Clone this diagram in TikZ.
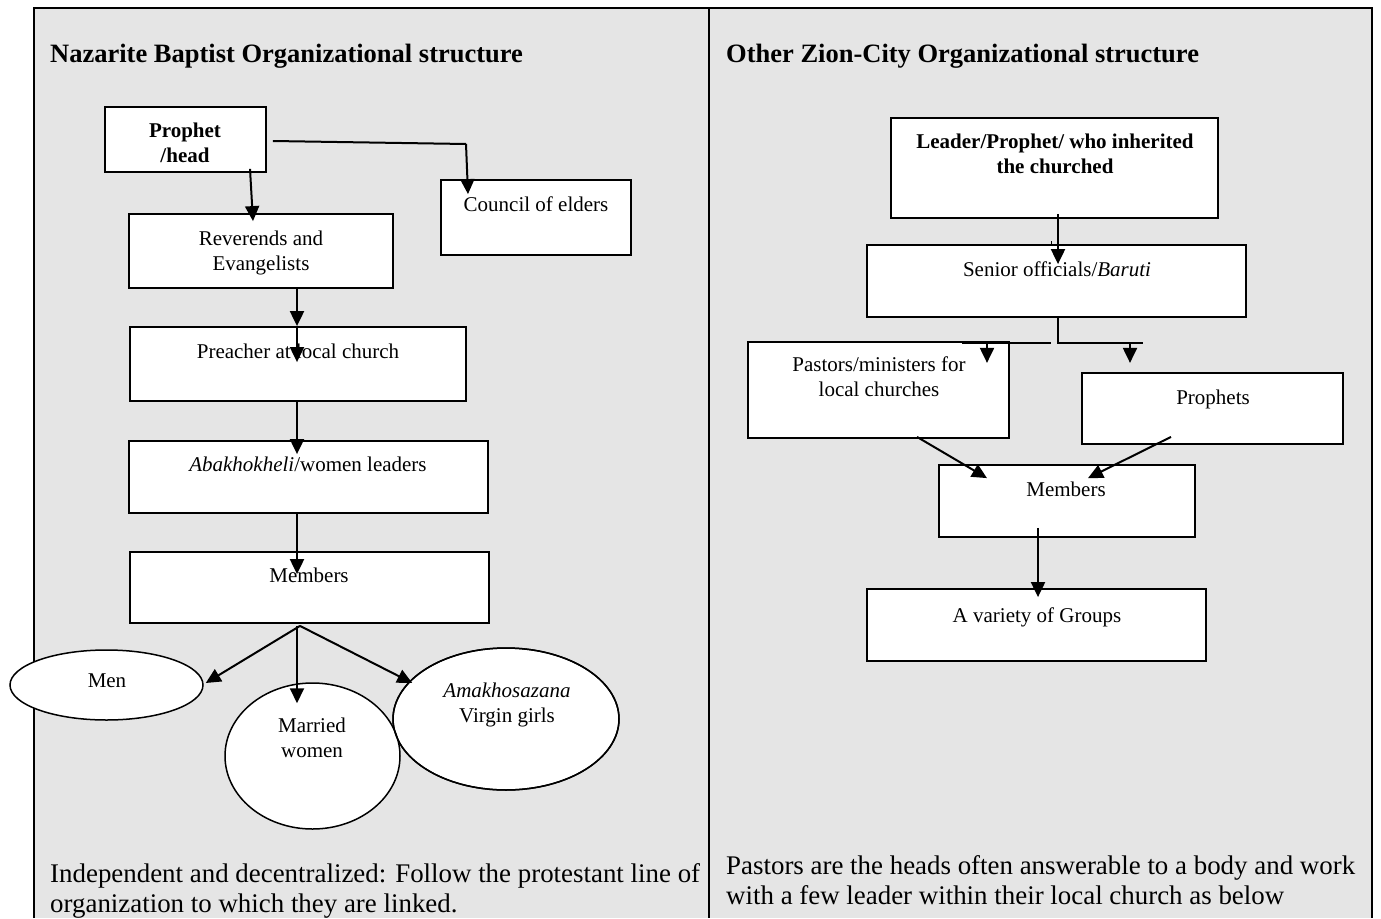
\documentclass[tikz,border=0pt]{standalone}
\usepackage{fontspec}
\setmainfont{Liberation Serif}
\usetikzlibrary{arrows.meta,shapes.geometric,calc}
\definecolor{panelgray}{RGB}{229,229,229}
\begin{document}
\begin{tikzpicture}[x=1pt,y=-1pt,
  box/.style={draw, fill=white, line width=1.8pt, inner sep=0pt},
  oval/.style={ellipse, draw, fill=white, line width=1.5pt, inner sep=0pt},
  txt/.style={anchor=base, align=center, inner sep=0pt, font={\fontsize{21}{25}\selectfont}},
  btxt/.style={anchor=base, align=center, inner sep=0pt, font={\fontsize{21}{25}\selectfont\bfseries}},
  ttl/.style={anchor=base west, inner sep=0pt, font={\fontsize{26.5}{30}\selectfont\bfseries}},
  para/.style={anchor=base west, align=left, inner sep=0pt, font={\fontsize{26.9}{30}\selectfont}},
  arr/.style={-{Triangle[length=15pt,width=14pt]}, line width=2pt},
  ln/.style={line width=2pt},
  frame/.style={line width=2pt}]
\useasboundingbox (0,0) rectangle (1381,918);
% panels
\fill[panelgray] (34,8) rectangle (1372,918);
\draw[frame] (34,918) -- (34,8) -- (1372,8) -- (1372,918);
\draw[frame] (709,8) -- (709,918);

% ---------- left panel ----------
\node[ttl] (ttlL) at (50,62) {Nazarite Baptist Organizational structure};
\node[box, minimum width=161pt, minimum height=65pt] (prophet) at (185.5,139.5) {};
\node[btxt] (tprophet) at (185,162) {Prophet\\/head};
\node[box, minimum width=190pt, minimum height=75pt] (council) at (536,217.5) {};
\node[txt] (tcouncil) at (536,211) {Council of elders};
\node[box, minimum width=264pt, minimum height=74pt] (reverends) at (261,251) {};
\node[txt] (trev) at (261,270) {Reverends and\\Evangelists};
\node[box, minimum width=336pt, minimum height=74pt] (preacher) at (298,364) {};
\node[txt] (tpreacher) at (298,358) {Preacher at local church};
\node[box, minimum width=359pt, minimum height=72pt] (abakh) at (308.5,477) {};
\node[txt] (tabakh) at (308,471) {\textit{Abakhokheli}/women leaders};
\node[box, minimum width=359pt, minimum height=71pt] (members) at (309.5,587.5) {};
\node[txt] (tmembers) at (309,582) {Members};

\node[oval, minimum width=193pt, minimum height=70pt] (men) at (106.5,685) {};
\node[txt] (tmen) at (107,687) {Men};
\node[oval, minimum width=226pt, minimum height=142pt] (amakh) at (506,719) {};
\node[oval, minimum width=175pt, minimum height=146pt] (married) at (312.5,756) {};
\draw[line width=1.5pt] (amakh.center) ellipse [x radius=113, y radius=71];
\node[txt] (tmarried) at (312,757) {Married\\women};
\node[txt] (tamakh) at (507,722) {\textit{Amakhosazana}\\Virgin girls};

\node[para] (paraL) at (50,912) {Independent and decentralized: Follow the protestant line of\\organization to which they are linked.};

% left connectors
\coordinate (pr1) at ($(prophet.east)+(6,1.5)$);
\coordinate (pr2) at (466,144);
\draw[ln] (pr1) -- (pr2);
\draw[arr] (pr2) -- ($(pr2 |- council.north)+(2,15)$);
\draw[arr] ($(prophet.south)+(64.5,-4)$) -- ($(reverends.north)+(-8,8)$);
\draw[arr] ($(reverends.south)+(36,0)$) -- ($(preacher.north)+(-1,0)$);
\draw[arr] ($(preacher.north)+(-1,0)$) -- ($(preacher.north)+(-1,36)$);
\draw[arr] ($(preacher.south)+(-1,0)$) -- ($(abakh.north)+(-11.5,14)$);
\draw[arr] ($(abakh.south)+(-11.5,0)$) -- ($(members.north)+(-12.5,23)$);
\coordinate (split) at ($(members.south)+(-9.5,2)$);
\draw[arr] (split) -- ($(men.east)+(2,-2)$);
\draw[arr] ($(split)+(-3,0)$) -- ($(married.north)+(-15.5,21)$);
\draw[arr] (split) -- ($(amakh.west)+(20,-36)$);

% ---------- right panel ----------
\node[ttl] (ttlR) at (726,62) {Other Zion-City Organizational structure};
\node[box, minimum width=327pt, minimum height=100pt] (leader) at (1054.5,168) {};
\node[btxt] (tleader) at (1055,173) {Leader/Prophet/ who inherited\\the churched};
\node[box, minimum width=379pt, minimum height=72pt] (senior) at (1056.5,281) {};
\node[txt] (tsenior) at (1057,276) {Senior officials/\textit{Baruti}};
\node[box, minimum width=261pt, minimum height=96pt] (pastors) at (878.5,390) {};
\node[txt] (tpastors) at (879,396) {Pastors/ministers for\\local churches};
\node[box, minimum width=261pt, minimum height=71pt] (prophets) at (1212.5,408.5) {};
\node[txt] (tprophets) at (1213,404) {Prophets};
\node[box, minimum width=256pt, minimum height=72pt] (members2) at (1067,501) {};
\node[txt] (tmembers2) at (1066,496) {Members};
\node[box, minimum width=339pt, minimum height=72pt] (groups) at (1036.5,625) {};
\node[txt] (tgroups) at (1037,622) {A variety of Groups};

\node[para] (paraR) at (726,904) {Pastors are the heads often answerable to a body and work\\with a few leader within their local church as below};

% right connectors
\draw[arr] ($(leader.south)+(3.5,-5)$) -- ($(senior.north)+(1.5,20)$);
\draw[line width=1pt] ($(senior.north)+(-5.5,-3)$) -- ($(senior.north)+(-5.5,0)$);
\coordinate (j) at ($(senior.south)+(1.5,25)$);
\draw[ln] ($(senior.south)+(1.5,0)$) -- (j) -- ($(j)+(85,0)$);
\draw[ln] ($(j)+(-96,0)$) -- ($(j)+(-7,0)$);
\draw[arr] ($(j)+(-71,0)$) -- ($(j)+(-71,20)$);
\draw[arr] ($(j)+(72,0)$) -- ($(j)+(72,20)$);
\draw[arr] ($(pastors.south)+(38.5,-2)$) -- ($(members2.north)+(-80,14)$);
\draw[arr] ($(prophets.south)+(-41.5,-8)$) -- ($(members2.north)+(21,14)$);
\draw[arr] ($(members2.south)+(-29,-10)$) -- ($(groups.north)+(1.5,9)$);
\end{tikzpicture}
\end{document}
